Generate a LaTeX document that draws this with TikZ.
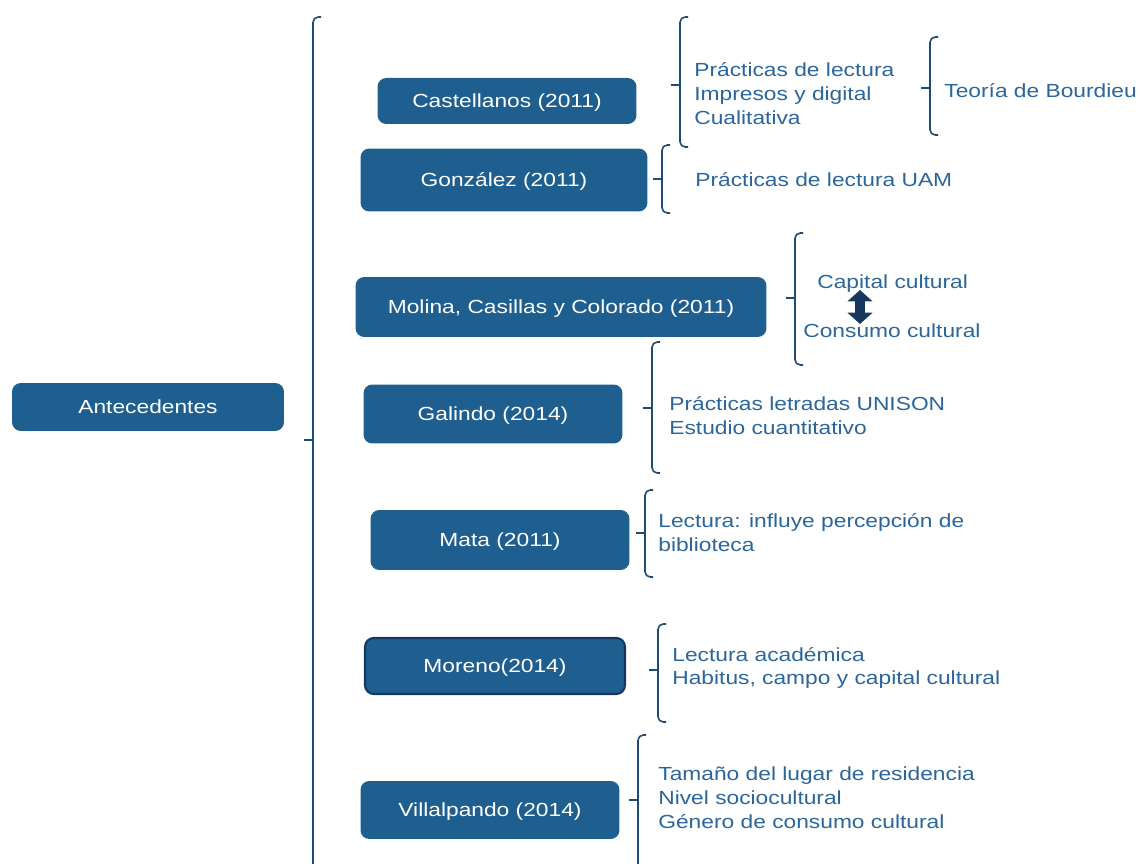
\documentclass[tikz,border=0pt]{standalone}
\usepackage{fontspec}
\setmainfont{Liberation Sans}[FakeStretch=1.2]
\usetikzlibrary{arrows.meta}
\definecolor{boxblue}{HTML}{1F5F8F}
\definecolor{textblue}{HTML}{2A659B}
\definecolor{bracecol}{HTML}{1F4A74}
\definecolor{navy}{HTML}{17375E}

\tikzset{
  ante/.style={fill=boxblue, text=white, rounded corners=5pt, inner sep=0pt, text depth=0pt, align=center},
  nota/.style={anchor=west, text=textblue, align=left, inner sep=0pt},
  llave/.style={draw=bracecol, line width=0.9pt, rounded corners=3pt},
}
% bracket: x, top, middle, bottom (in px)
\newcommand{\llavepath}[4]{%
  \draw[llave] (#1+8,#2) -- (#1,#2) -- (#1,#4) -- (#1+8,#4);
  \draw[llave] (#1,#3) -- (#1-9,#3);}

\begin{document}
\begin{tikzpicture}[x=0.02cm,y=-0.02cm,font=\fontsize{10.8}{13.6}\selectfont]
\useasboundingbox (0,0) rectangle (1140,864);

% boxes
\node[ante, minimum width=5.44cm, minimum height=0.96cm] (ante) at (148,407) {Antecedentes};
\node[ante, minimum width=5.18cm, minimum height=0.92cm] (cast) at (507,101) {Castellanos (2011)};
\node[ante, minimum width=5.74cm, minimum height=1.26cm] (gonz) at (504,180) {González (2011)};
\node[ante, minimum width=8.22cm, minimum height=1.2cm] (moli) at (561,307) {Molina, Casillas y Colorado (2011)};
\node[ante, minimum width=5.18cm, minimum height=1.18cm] (gali) at (493,414) {Galindo (2014)};
\node[ante, minimum width=5.18cm, minimum height=1.2cm] (mata) at (500,540) {Mata (2011)};
\node[ante, draw=navy, line width=1.2pt, minimum width=5.2cm, minimum height=1.12cm] (more) at (495,666) {Moreno(2014)};
\node[ante, minimum width=5.18cm, minimum height=1.16cm] (vill) at (490,810) {Villalpando (2014)};

% brackets
\llavepath{313}{17}{440}{900}
\llavepath{680}{17}{85}{147}
\llavepath{930}{37}{88}{135}
\llavepath{662}{145}{179}{213}
\llavepath{795}{233}{298}{365}
\llavepath{652}{342}{408}{473}
\llavepath{645}{490}{533}{577}
\llavepath{658}{624}{670}{722}
\llavepath{638}{735}{800}{900}

% notes
\node[nota] (n-cast) at (694,94) {Prácticas de lectura\\Impresos y digital\\Cualitativa};
\node[nota] (n-bour) at (944,91) {Teoría de Bourdieu};
\node[nota] (n-gonz) at (695,180) {Prácticas de lectura UAM};
\node[nota] (n-cap) at (817,284) {Capital cultural};
\node[nota] (n-con) at (803,331) {Consumo cultural};
\node[nota] (n-gali) at (669,416) {Prácticas letradas UNISON\\Estudio cuantitativo};
\node[nota] (n-mata) at (658,533) {Lectura: influye percepción de\\biblioteca};
\node[nota] (n-more) at (672,668) {Lectura académica\\Habitus, campo y capital cultural};
\node[nota] (n-vill) at (658,798) {Tamaño del lugar de residencia\\Nivel sociocultural\\Género de consumo cultural};

% double arrow
\coordinate (a-top) at (860,290);
\coordinate (a-bot) at (860,324);
\draw[navy, line width=5.5pt, {Triangle[length=6.5pt,width=14pt]}-{Triangle[length=6.5pt,width=14pt]}] (a-top) -- (a-bot);
\end{tikzpicture}
\end{document}
